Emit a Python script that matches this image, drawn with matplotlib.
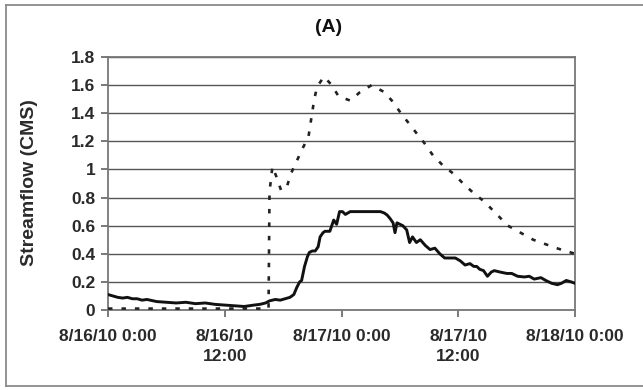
import matplotlib
matplotlib.use("Agg")
import matplotlib.pyplot as plt
from matplotlib.lines import Line2D

# ---------------- data ----------------
title = "(A)"
y_label = "Streamflow (CMS)"
x_tick_hours = [0, 12, 24, 36, 48]
x_tick_labels = ["8/16/10 0:00", "8/16/10\n12:00", "8/17/10 0:00", "8/17/10\n12:00", "8/18/10 0:00"]
y_ticks = [0, 0.2, 0.4, 0.6, 0.8, 1.0, 1.2, 1.4, 1.6, 1.8]
y_tick_labels = ["0", "0.2", "0.4", "0.6", "0.8", "1", "1.2", "1.4", "1.6", "1.8"]

# observed streamflow (solid), hours since 8/16/10 0:00
obs_hours = [0, 0.5, 1, 1.5, 2, 2.5, 3, 3.5, 4, 5, 6, 7, 8, 9, 10, 11, 12, 13, 14, 15,
             15.6, 16.2, 16.6, 17.2, 17.7, 18.2, 18.7, 19.1, 19.4, 19.7, 19.9, 20.2, 20.5, 20.7,
             21.0, 21.3, 21.6, 21.8, 22.1, 22.3, 22.8, 23.0, 23.2, 23.5, 23.8, 24.1, 24.4, 24.9,
             26, 27, 28.0, 28.4, 28.7, 29.0, 29.3, 29.5, 29.7, 30.0, 30.3, 30.7, 31.0, 31.3,
             31.7, 32.1, 32.6, 33.1, 33.6, 34.1, 34.6, 35.2, 35.7, 36.2, 36.7, 37.2, 37.6, 37.9,
             38.2, 38.6, 39.0, 39.4, 39.7, 40.3, 41.0, 41.5, 42.1, 42.8, 43.3, 43.8, 44.5, 45.0,
             45.6, 46.2, 46.6, 47.1, 47.6, 48]
obs_flow = [0.11, 0.10, 0.09, 0.085, 0.09, 0.08, 0.08, 0.07, 0.075, 0.06, 0.055, 0.05, 0.055, 0.045, 0.05, 0.04, 0.035, 0.03, 0.025, 0.035,
            0.04, 0.05, 0.065, 0.075, 0.07, 0.08, 0.09, 0.11, 0.16, 0.20, 0.21, 0.31, 0.38, 0.41,
            0.42, 0.42, 0.45, 0.52, 0.55, 0.56, 0.56, 0.60, 0.64, 0.61, 0.70, 0.70, 0.68, 0.70,
            0.70, 0.70, 0.70, 0.69, 0.675, 0.65, 0.62, 0.55, 0.62, 0.61, 0.60, 0.57, 0.48, 0.52,
            0.48, 0.50, 0.46, 0.43, 0.44, 0.40, 0.37, 0.37, 0.37, 0.35, 0.32, 0.33, 0.31, 0.31,
            0.29, 0.28, 0.24, 0.27, 0.28, 0.27, 0.26, 0.26, 0.24, 0.235, 0.24, 0.22, 0.23, 0.21,
            0.19, 0.18, 0.19, 0.21, 0.20, 0.19]

# simulated streamflow (dotted)
sim_hours = [0, 16.5, 16.6, 16.9, 17.3, 17.8, 18.4, 18.8, 19.4, 20.0, 20.6, 20.8, 21.0, 21.2, 21.5,
             22.2, 23.0, 23.7, 24.9, 25.9, 27.1, 28.4, 29.3, 30.1, 30.9, 31.8, 32.6, 33.4, 34.4,
             35.5, 36.5, 37.6, 38.7, 41.1, 43.7, 46.1, 48]
sim_flow = [0.01, 0.01, 0.84, 1.02, 0.95, 0.85, 0.88, 0.97, 1.06, 1.15, 1.23, 1.32, 1.41, 1.50, 1.59,
            1.66, 1.60, 1.52, 1.49, 1.55, 1.60, 1.55, 1.48, 1.40, 1.33, 1.25, 1.18, 1.10, 1.03,
            0.97, 0.90, 0.83, 0.77, 0.60, 0.50, 0.44, 0.40]

assert len(obs_hours) == len(obs_flow)
assert len(sim_hours) == len(sim_flow)

# ---------------- figure ----------------
W, H = 643, 390
fig = plt.figure(figsize=(W / 100, H / 100), dpi=100)
fig.patch.set_facecolor("white")
plt.rcParams["font.family"] = ["Liberation Sans", "DejaVu Sans"]

L, R, T, B = 108, 575, 57, 310
ax = fig.add_axes([L / W, 1 - B / H, (R - L) / W, (B - T) / H])

ax.plot(sim_hours, sim_flow, color="#222222", lw=1.9, linestyle=(0, (1.7, 3.4)),
        solid_capstyle="butt", dash_capstyle="butt", zorder=3)
ax.plot(obs_hours, obs_flow, color="#111111", lw=2.1, solid_joinstyle="round", zorder=4)

ax.set_xlim(0, 48)
ax.set_ylim(0, 1.8)
ax.set_yticks(y_ticks)
ax.set_yticklabels(y_tick_labels)
ax.set_xticks(x_tick_hours)
ax.set_xticklabels(x_tick_labels, linespacing=1.35)

ax.yaxis.grid(True, color="#555555", lw=1.0)
ax.set_axisbelow(True)
for s in ax.spines.values():
    s.set_color("#777777")
    s.set_linewidth(1.3)

txtc = "#2a2a2a"
ax.tick_params(axis="both", colors="#555555", labelcolor=txtc, direction="out", length=5, width=1.1)
ax.tick_params(axis="x", pad=9)
ax.tick_params(axis="y", pad=4)
for lab in ax.get_xticklabels() + ax.get_yticklabels():
    lab.set_fontweight("bold")
    lab.set_fontsize(12.5)

fig.text(329 / W, 1 - 28 / H, title, ha="center", va="center", fontsize=14,
         fontweight="bold", color="#111111")
fig.text(30 / W, 1 - 183 / H, y_label, ha="center", va="center", rotation=90,
         fontsize=14, fontweight="bold", color=txtc)

# outer chart border
bc = "#8a8a8a"
fig.add_artist(Line2D([6 / W, 6 / W], [1 - 5 / H, 1 - 386 / H], color=bc, lw=1.3, transform=fig.transFigure))
fig.add_artist(Line2D([6 / W, 1.0], [1 - 5 / H, 1 - 5 / H], color=bc, lw=1.3, transform=fig.transFigure))
fig.add_artist(Line2D([6 / W, 1.0], [1 - 386 / H, 1 - 386 / H], color=bc, lw=1.3, transform=fig.transFigure))

fig.savefig("out.png", dpi=100, facecolor="white")
